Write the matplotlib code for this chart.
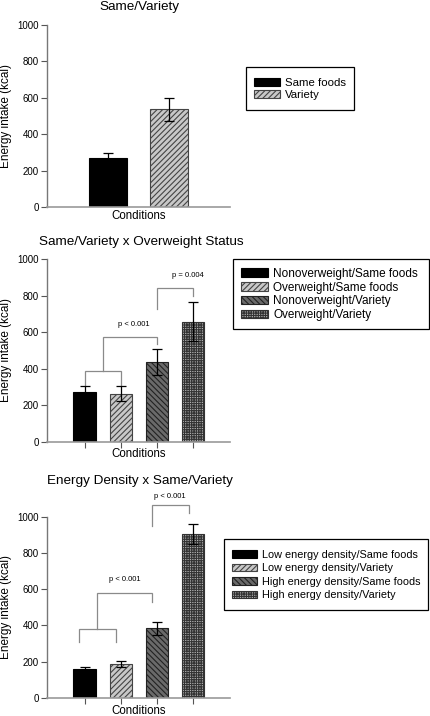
import matplotlib
matplotlib.use("Agg")
import matplotlib.pyplot as plt
from matplotlib.patches import Rectangle

plt.rcParams['font.family'] = ['Liberation Sans', 'DejaVu Sans']
plt.rcParams['hatch.linewidth'] = 0.8

# ---- data ----
p1_labels = ["Same foods", "Variety"]
p1_values = [268, 536]
p1_err = [27, 61]

p2_labels = ["Nonoverweight/Same foods", "Overweight/Same foods",
             "Nonoverweight/Variety", "Overweight/Variety"]
p2_values = [270, 263, 437, 658]
p2_err = [35, 42, 70, 108]

p3_labels = ["Low energy density/Same foods", "Low energy density/Variety",
             "High energy density/Same foods", "High energy density/Variety"]
p3_values = [158, 189, 384, 903]
p3_err = [15, 17, 37, 55]

titles = ["Same/Variety", "Same/Variety x Overweight Status", "Energy Density x Same/Variety"]
ylabel = "Energy intake (kcal)"
xlabel = "Conditions"
yticks = [0, 200, 400, 600, 800, 1000]

p2_texts = ["p < 0.001", "p = 0.004"]
p3_texts = ["p < 0.001", "p < 0.001"]

# styles
styles4 = [dict(facecolor="black", hatch=None),
           dict(facecolor="#c8c8c8", hatch="//////"),
           dict(facecolor="#6a6a6a", hatch="\\\\\\\\\\\\"),
           dict(facecolor="#b0b0b0", hatch="+++++++")]
hatch_colors = ["black", "#444444", "#222222", "#333333"]

W, H = 430, 716
fig = plt.figure(figsize=(W / 100, H / 100), dpi=100)

def ax_rect(l, r, t, b):
    return [l / W, 1 - b / H, (r - l) / W, (b - t) / H]

def style_ax(ax, xticks, xlab_y):
    for s in ["top", "right"]:
        ax.spines[s].set_visible(False)
    ax.spines["left"].set_color("#777777")
    ax.spines["bottom"].set_color("#999999")
    ax.spines["left"].set_linewidth(1.0)
    ax.spines["bottom"].set_linewidth(1.2)
    ax.set_ylim(0, 1000)
    ax.set_yticks(yticks)
    ax.tick_params(axis="y", labelsize=7, length=4, width=0.8, color="#555555", pad=2)
    if xticks:
        ax.set_xticks(range(4))
        ax.set_xticklabels([])
        ax.tick_params(axis="x", length=4, width=0.8, color="#555555")
    else:
        ax.set_xticks([])
    yl = ax.set_ylabel(ylabel, fontsize=8.5)
    ax.yaxis.set_label_coords(-0.224, 0.5)
    yl.set_va("center")
    xl = ax.set_xlabel(xlabel, fontsize=8.3)
    ax.xaxis.set_label_coords(0.5, xlab_y)
    xl.set_va("center")

def draw_bars(ax, values, errs, labels, styles, hcols, width):
    for i, (v, e, lab) in enumerate(zip(values, errs, labels)):
        st = styles[i]
        ax.bar(i, v, width=width, facecolor=st["facecolor"], hatch=st["hatch"],
               edgecolor=hcols[i], linewidth=0.8, label=lab, zorder=2)
        ax.errorbar(i, v, yerr=e, fmt="none", ecolor="black", elinewidth=0.9,
                    capsize=3.5, capthick=0.9, zorder=3)

def bracket(ax, x1, x2, y, d1, d2, color="#8a8a8a"):
    ax.plot([x1, x1, x2, x2], [d1, y, y, d2], color=color, lw=0.9, zorder=1,
            clip_on=False, solid_joinstyle="miter")

def make_legend(ax, frame, hx, cy, fs, ls):
    l, r, t, b = frame
    fig.patches.append(Rectangle((l / W, 1 - b / H), (r - l) / W, (b - t) / H,
                                 transform=fig.transFigure, fill=False,
                                 edgecolor="black", linewidth=0.9))
    leg = ax.legend(loc="center left", bbox_to_anchor=(hx / W, 1 - cy / H),
                    bbox_transform=fig.transFigure, fontsize=fs, frameon=False,
                    handlelength=2.3, handleheight=0.7, borderpad=0,
                    labelspacing=ls, handletextpad=0.45, borderaxespad=0)
    return leg

# ---- Panel 1 ----
ax1 = fig.add_axes(ax_rect(47, 230, 25, 207))
draw_bars(ax1, p1_values, p1_err, p1_labels,
          [styles4[0], styles4[1]], [hatch_colors[0], hatch_colors[1]], 0.61)
ax1.set_xlim(-1.0, 2.0)
style_ax(ax1, False, -0.05)
fig.text(139 / W, 1 - 7 / H, titles[0], fontsize=9.7, ha="center", va="center")
make_legend(ax1, (246, 354, 67, 110), 254, 89, 8.2, 0.22)

# ---- Panel 2 ----
ax2 = fig.add_axes(ax_rect(47, 230, 259.3, 441.7))
draw_bars(ax2, p2_values, p2_err, p2_labels, styles4, hatch_colors, 0.62)
ax2.set_xlim(-1.04, 4.02)
style_ax(ax2, True, -0.068)
fig.text(39 / W, 1 - 242 / H, titles[1], fontsize=9.7, ha="left", va="center")
bracket(ax2, 0, 1, 389, 310, 310)
bracket(ax2, 0.5, 2, 576, 389, 534)
ax2.text(1.35, 622, p2_texts[0], fontsize=5.5, ha="center", va="bottom")
bracket(ax2, 2, 3, 845, 727, 799)
ax2.text(2.85, 893, p2_texts[1], fontsize=5.5, ha="center", va="bottom")
make_legend(ax2, (233, 429.4, 259, 329), 240.7, 294.5, 8.5, 0.16)

# ---- Panel 3 ----
ax3 = fig.add_axes(ax_rect(47, 230, 516.7, 698))
draw_bars(ax3, p3_values, p3_err, p3_labels, styles4, hatch_colors, 0.62)
ax3.set_xlim(-1.04, 4.02)
style_ax(ax3, True, -0.07)
fig.text(46.7 / W, 1 - 481 / H, titles[2], fontsize=9.7, ha="left", va="center")
bracket(ax3, -0.15, 0.86, 381, 310, 310)
bracket(ax3, 0.35, 1.85, 577, 381, 531)
ax3.text(1.1, 635, p3_texts[0], fontsize=5.5, ha="center", va="bottom")
bracket(ax3, 1.85, 2.9, 1065, 949, 1020)
ax3.text(2.35, 1092, p3_texts[1], fontsize=5.5, ha="center", va="bottom")
make_legend(ax3, (224, 428, 539, 610), 232, 575, 7.8, 0.32)

fig.savefig("out.png", dpi=100)
